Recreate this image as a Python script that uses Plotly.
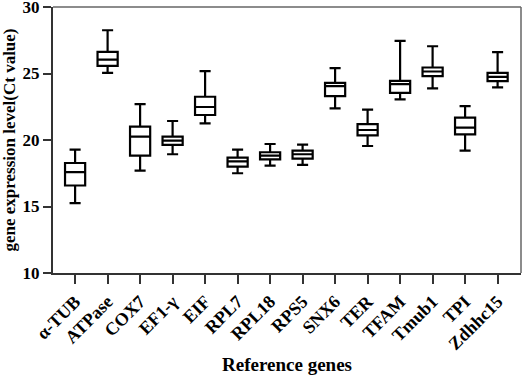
import plotly.graph_objects as go

genes = ["α-TUB", "ATPase", "COX7", "EF1-γ", "EIF", "RPL7", "RPL18", "RPS5",
         "SNX6", "TER", "TFAM", "Tmub1", "TPI", "Zdhhc15"]
lower = [15.25, 25.05, 17.7, 18.93, 21.25, 17.5, 18.08, 18.13, 22.38, 19.55, 23.05, 23.88, 19.2, 23.95]
q1 = [16.58, 25.58, 18.83, 19.63, 21.88, 18.0, 18.55, 18.6, 23.3, 20.35, 23.55, 24.8, 20.43, 24.43]
median = [17.58, 26.05, 20.25, 19.95, 22.48, 18.4, 18.83, 18.93, 24.05, 20.75, 24.2, 25.15, 20.93, 24.75]
q3 = [18.27, 26.63, 21.0, 20.25, 23.25, 18.68, 19.08, 19.2, 24.3, 21.2, 24.45, 25.45, 21.68, 25.05]
upper = [19.28, 28.25, 22.7, 21.43, 25.18, 19.28, 19.7, 19.65, 25.4, 22.28, 27.45, 27.05, 22.55, 26.6]
yticks = [10, 15, 20, 25, 30]

font = "Liberation Serif"

fig = go.Figure()
fig.add_trace(go.Box(
    x=genes, q1=q1, median=median, q3=q3, lowerfence=lower, upperfence=upper,
    fillcolor="white", line=dict(color="black", width=2.2),
    whiskerwidth=0.55, width=0.62, boxpoints=False, showlegend=False,
    hoverinfo="y",
))

fig.update_layout(
    width=526, height=375,
    margin=dict(l=53, r=5, t=7, b=102, autoexpand=False),
    plot_bgcolor="white", paper_bgcolor="white",
    font=dict(family=font, color="black"),
    xaxis=dict(
        type="category", range=[-0.68, 13.72], automargin=False,
        showline=True, linecolor="#333", linewidth=2,
        ticks="outside", ticklen=9, tickwidth=2, tickcolor="#333",
        tickangle=-45, tickfont=dict(family=font, size=18, color="black"),
        tickvals=genes, ticktext=[f"<b>{g}</b>" for g in genes],
        title=dict(text="<b>Reference genes</b>", font=dict(family=font, size=19), standoff=10),
        showgrid=False, zeroline=False,
    ),
    yaxis=dict(
        range=[10, 30], automargin=False, ticklabeloverflow="allow",
        tickvals=yticks, ticktext=[f"<b>{v}</b>" for v in yticks],
        showline=True, linecolor="#333", linewidth=2,
        ticks="outside", ticklen=8, tickwidth=2, tickcolor="#333",
        tickfont=dict(family=font, size=17, color="black"),
        title=dict(text="<b>gene expression level(Ct value)</b>", font=dict(family=font, size=17), standoff=6),
        showgrid=False, zeroline=False,
    ),
    shapes=[
        dict(type="line", xref="paper", yref="paper", x0=0, x1=1, y0=1, y1=1,
             line=dict(color="#666", width=1.5)),
        dict(type="line", xref="paper", yref="paper", x0=1, x1=1, y0=0, y1=1,
             line=dict(color="#666", width=1.5)),
    ],
)

fig.write_html("out.html", config={"displayModeBar": False},
               post_script="document.body.style.margin='0';document.body.style.overflow='hidden';")
